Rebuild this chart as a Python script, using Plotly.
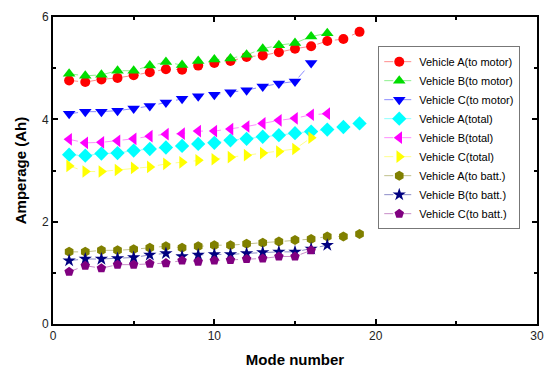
import plotly.graph_objects as go

# Mode numbers
modes_19 = list(range(1, 20))
modes_17 = list(range(1, 18))
modes_16 = list(range(1, 17))

# Amperage (Ah) per mode
a_motor = [4.76, 4.73, 4.78, 4.81, 4.86, 4.92, 4.98, 4.97, 5.05, 5.10, 5.14, 5.22,
           5.25, 5.31, 5.38, 5.43, 5.53, 5.57, 5.71]
b_motor = [4.89, 4.85, 4.87, 4.95, 4.95, 5.05, 5.12, 5.06, 5.14, 5.17, 5.19, 5.26,
           5.38, 5.45, 5.49, 5.62, 5.68]
c_motor = [4.11, 4.15, 4.15, 4.17, 4.21, 4.26, 4.33, 4.40, 4.45, 4.48, 4.53, 4.57,
           4.64, 4.70, 4.74, 5.10]
a_total = [3.31, 3.29, 3.33, 3.34, 3.39, 3.42, 3.45, 3.48, 3.52, 3.54, 3.59, 3.62,
           3.66, 3.69, 3.73, 3.76, 3.80, 3.85, 3.92]
b_total = [3.61, 3.54, 3.55, 3.58, 3.62, 3.67, 3.71, 3.72, 3.77, 3.77, 3.81, 3.86,
           3.92, 3.98, 4.02, 4.09, 4.11]
c_total = [3.09, 2.98, 2.98, 3.01, 3.05, 3.07, 3.13, 3.16, 3.20, 3.22, 3.26, 3.30,
           3.34, 3.37, 3.42, 3.64]
a_batt = [1.41, 1.41, 1.44, 1.44, 1.46, 1.49, 1.52, 1.49, 1.52, 1.54, 1.54, 1.57,
          1.59, 1.61, 1.64, 1.66, 1.71, 1.71, 1.76]
b_batt = [1.24, 1.27, 1.27, 1.28, 1.30, 1.35, 1.38, 1.32, 1.35, 1.36, 1.36, 1.38,
          1.40, 1.41, 1.41, 1.47, 1.54]
c_batt = [1.02, 1.14, 1.09, 1.16, 1.16, 1.18, 1.19, 1.24, 1.22, 1.24, 1.25, 1.27,
          1.28, 1.32, 1.32, 1.44]

series = [
    ("Vehicle A(to motor)", modes_19, a_motor, "circle", "#ff0000", "#ff8c8c", 10),
    ("Vehicle B(to motor)", modes_17, b_motor, "triangle-up", "#00dd00", "#8cf08c", 11),
    ("Vehicle C(to motor)", modes_16, c_motor, "triangle-down", "#0000ff", "#8c8cff", 11),
    ("Vehicle A(total)", modes_19, a_total, "diamond", "#00ffff", "#8cffff", 11),
    ("Vehicle B(total)", modes_17, b_total, "triangle-left", "#ff00ff", "#ff8cff", 11),
    ("Vehicle C(total)", modes_16, c_total, "triangle-right", "#ffff00", "#ffff8c", 11),
    ("Vehicle A(to batt.)", modes_19, a_batt, "hexagon", "#808000", "#c0c08c", 10),
    ("Vehicle B(to batt.)", modes_17, b_batt, "star", "#000080", "#8c8cc8", 10),
    ("Vehicle C(to batt.)", modes_16, c_batt, "pentagon", "#800080", "#c88cc8", 10),
]

fig = go.Figure()
for name, x, y, symbol, color, line_color, size in series:
    fig.add_trace(go.Scatter(
        x=x, y=y, name=name, mode="lines+markers",
        marker=dict(symbol=symbol, color=color, size=size, line=dict(width=0)),
        line=dict(color=line_color, width=1, dash="dash"),
    ))

axis_common = dict(
    showline=True, linecolor="black", linewidth=2, mirror="allticks",
    ticks="inside", ticklen=5, tickwidth=1.5, tickcolor="black",
    showgrid=False, zeroline=False,
    tickfont=dict(family="Liberation Sans, Arial, sans-serif", size=12, color="#222"),
)

fig.update_xaxes(
    range=[0, 30], tickvals=[0, 10, 20, 30],
    minor=dict(ticks="inside", ticklen=3, tickvals=[5, 15, 25], tickcolor="black"),
    title=dict(text="<b>Mode number</b>", standoff=12,
               font=dict(family="Liberation Sans, Arial, sans-serif", size=15, color="black")),
    **axis_common,
)
fig.update_yaxes(
    range=[0, 6], tickvals=[0, 2, 4, 6],
    minor=dict(ticks="inside", ticklen=3, tickvals=[1, 3, 5], tickcolor="black"),
    title=dict(text="<b>Amperage (Ah)</b>", standoff=12,
               font=dict(family="Liberation Sans, Arial, sans-serif", size=15, color="black")),
    **axis_common,
)

fig.update_layout(
    width=554, height=376,
    margin=dict(l=53, r=14, t=10, b=50),
    paper_bgcolor="white", plot_bgcolor="white",
    font=dict(family="Liberation Sans, Arial, sans-serif", size=11, color="black"),
    legend=dict(
        x=0.672, y=0.905, xanchor="left", yanchor="top",
        bgcolor="white", bordercolor="#777", borderwidth=1,
        font=dict(size=11, color="black"),
        tracegroupgap=0, itemwidth=30,
    ),
)

fig.write_html("out.html")
